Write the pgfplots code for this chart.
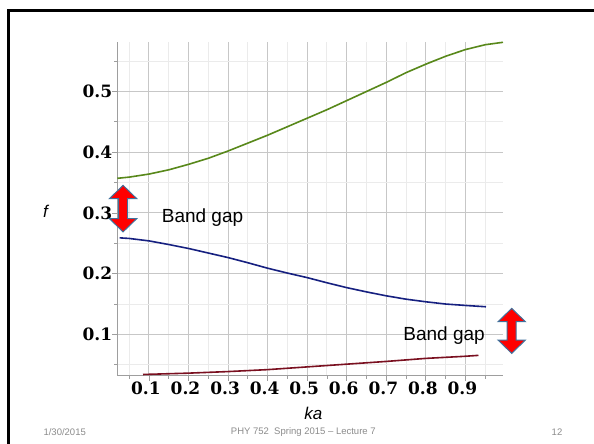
\documentclass[border=0pt]{standalone}
\usepackage{pgfplots}
\pgfplotsset{compat=1.18}
\usepackage{fontspec}
\setmainfont{Liberation Sans}
\newfontfamily\tickfont{DejaVu Serif}
\definecolor{cgreen}{RGB}{88,136,26}
\definecolor{cblue}{RGB}{22,32,128}
\definecolor{cred}{RGB}{122,16,32}
\definecolor{arrowedge}{RGB}{65,113,156}
\definecolor{footgray}{RGB}{140,140,140}

\pgfplotstableread{
x y
0.02 0.357
0.05 0.359
0.10 0.364
0.15 0.371
0.20 0.380
0.25 0.390
0.30 0.402
0.35 0.415
0.40 0.428
0.45 0.442
0.50 0.456
0.55 0.470
0.60 0.485
0.65 0.500
0.70 0.515
0.75 0.531
0.80 0.545
0.85 0.558
0.90 0.569
0.95 0.577
0.995 0.581
}\greenband

\pgfplotstableread{
x y
0.026 0.259
0.05 0.258
0.10 0.254
0.15 0.248
0.20 0.2415
0.25 0.234
0.30 0.2265
0.35 0.218
0.40 0.209
0.45 0.201
0.50 0.1935
0.55 0.185
0.60 0.177
0.65 0.170
0.70 0.1635
0.75 0.158
0.80 0.1537
0.85 0.150
0.90 0.1477
0.952 0.1455
}\blueband

\pgfplotstableread{
x y
0.085 0.0340
0.10 0.0343
0.20 0.0362
0.30 0.0388
0.40 0.0420
0.50 0.0465
0.60 0.0510
0.70 0.0555
0.80 0.0605
0.90 0.0640
0.933 0.0655
}\redband

\tikzset{gaparrow/.style={fill=red, draw=arrowedge, line width=1pt, line join=miter}}

\begin{document}
\begin{tikzpicture}[x=1pt,y=1pt]
\path[use as bounding box] (0,0) rectangle (594,444);
\fill[white] (0,0) rectangle (594,444);
\draw[line width=2.7pt, black, line join=miter] (8.7,-3) -- (8.7,433.7) -- (597,433.7);

\begin{axis}[
  at={(117.3pt,68.3pt)}, anchor=south west,
  scale only axis, width=385.7pt, height=333.4pt,
  xmin=0.02, xmax=0.995, ymin=0.032, ymax=0.581,
  clip=false,
  axis lines*=left,
  axis line style={color=black!38, line width=1.2pt},
  xtick={0.1,0.2,0.3,0.4,0.5,0.6,0.7,0.8,0.9},
  xticklabels={0.1,0.2,0.3,0.4,0.5,0.6,0.7,0.8,0.9},
  ytick={0.1,0.2,0.3,0.4,0.5},
  yticklabels={0.1,0.2,0.3,0.4,0.5},
  minor xtick={0.05,0.15,0.25,0.35,0.45,0.55,0.65,0.75,0.85,0.95},
  minor ytick={0.05,0.15,0.25,0.35,0.45,0.55},
  grid=both,
  major grid style={color=black!22, line width=1pt},
  minor grid style={color=black!8, line width=1pt},
  tick align=outside,
  major tick length=5pt, minor tick length=3.3pt,
  tick style={color=black!38, line width=0.8pt},
  /pgf/number format/assume math mode=true,
  ticklabel style={font=\tickfont\bfseries\fontsize{17}{19}\selectfont},
  xticklabel style={anchor=north, inner sep=0pt, xshift=-3pt, yshift=-1pt},
  yticklabel style={anchor=east, inner sep=0pt},
]
\addplot[cgreen, line width=1.6pt] table {\greenband};
\addplot[cblue, line width=1.6pt] table {\blueband};
\addplot[cred, line width=1.6pt] table {\redband};

\coordinate (T1) at (axis cs:0.0346,0.3454);
\coordinate (B1) at (axis cs:0.0346,0.2688);
\coordinate (T2) at (axis cs:1.017,0.1428);
\coordinate (B2) at (axis cs:1.017,0.0688);
\filldraw[gaparrow]
  (T1) -- ([xshift=13.7pt,yshift=-13.3pt]T1) -- ([xshift=4.5pt,yshift=-13.3pt]T1)
  -- ([xshift=4.5pt,yshift=13.3pt]B1) -- ([xshift=13.7pt,yshift=13.3pt]B1) -- (B1)
  -- ([xshift=-13.7pt,yshift=13.3pt]B1) -- ([xshift=-4.5pt,yshift=13.3pt]B1)
  -- ([xshift=-4.5pt,yshift=-13.3pt]T1) -- ([xshift=-13.7pt,yshift=-13.3pt]T1) -- cycle;
\filldraw[gaparrow]
  (T2) -- ([xshift=13.7pt,yshift=-13.3pt]T2) -- ([xshift=4.5pt,yshift=-13.3pt]T2)
  -- ([xshift=4.5pt,yshift=13.3pt]B2) -- ([xshift=13.7pt,yshift=13.3pt]B2) -- (B2)
  -- ([xshift=-13.7pt,yshift=13.3pt]B2) -- ([xshift=-4.5pt,yshift=13.3pt]B2)
  -- ([xshift=-4.5pt,yshift=-13.3pt]T2) -- ([xshift=-13.7pt,yshift=-13.3pt]T2) -- cycle;
\node[anchor=base, inner sep=0pt, font=\fontsize{19}{22}\selectfont] at (axis cs:0.2354,0.2836) {Band gap};
\node[anchor=base, inner sep=0pt, font=\fontsize{19}{22}\selectfont] at (axis cs:0.846,0.0906) {Band gap};
\end{axis}

\node[font=\itshape\fontsize{17}{20}\selectfont] at (45.5,233) {f};
\node[font=\itshape\fontsize{17}{20}\selectfont] at (313.3,31) {ka};
\node[font=\fontsize{9.5}{11}\selectfont, text=footgray] at (64.7,12.3) {1/30/2015};
\node[font=\fontsize{9.5}{11}\selectfont, text=footgray] at (303.3,12.3) {PHY 752\ \ Spring 2015 -- Lecture 7};
\node[font=\fontsize{9.5}{11}\selectfont, text=footgray] at (557,12.3) {12};
\end{tikzpicture}
\end{document}
